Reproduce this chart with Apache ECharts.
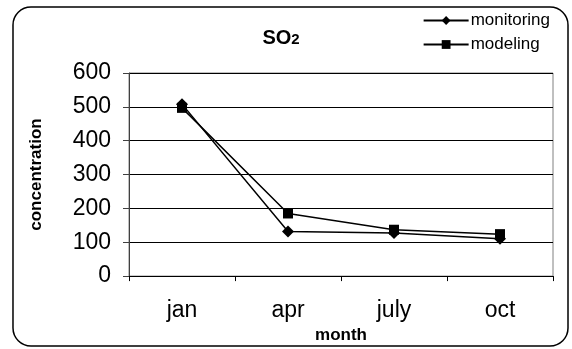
<!DOCTYPE html>
<html>
<head>
<meta charset="utf-8">
<script src="https://cdn.jsdelivr.net/npm/echarts@6/dist/echarts.min.js"></script>
<style>html,body{margin:0;padding:0;background:#fff;}#c{width:572px;height:349px;}</style>
</head>
<body>
<div id="c"></div>
<script>
var categories = ['jan', 'apr', 'july', 'oct'];
var monitoring = [508, 132, 127, 110];
var modeling = [497, 185, 137, 124];
var yTicks = [0, 100, 200, 300, 400, 500, 600];

var chart = echarts.init(document.getElementById('c'), null, {renderer: 'canvas'});
var font = 'Liberation Sans, Arial, sans-serif';
chart.setOption({
  animation: false,
  backgroundColor: '#fff',
  textStyle: {fontFamily: font, color: '#000'},
  title: {
    text: '{a|SO}{b|2}',
    left: 276, top: 23, textAlign: 'center',
    textStyle: {rich: {
      a: {fontFamily: font, fontSize: 20, fontWeight: 'bold', color: '#000'},
      b: {fontFamily: font, fontSize: 15, fontWeight: 'bold', color: '#000', padding: [3, 0, 0, 0]}
    }}
  },
  legend: {
    orient: 'vertical', right: 17, top: 7, itemGap: 7,
    itemWidth: 45, itemHeight: 11,
    textStyle: {fontFamily: font, fontSize: 17, color: '#000', padding: [0, 0, 0, -3]},
    data: ['monitoring', 'modeling']
  },
  graphic: [{
    type: 'rect', shape: {x: 13, y: 7, width: 555, height: 339, r: 18},
    style: {fill: 'none', stroke: '#000', lineWidth: 1.5}, z: 100, silent: true
  }],
  grid: {left: 129, right: 19, top: 73, bottom: 70, show: true, borderColor: '#808080', borderWidth: 1},
  xAxis: {
    type: 'category', data: categories, boundaryGap: true,
    name: 'month', nameLocation: 'middle', nameGap: 45,
    nameTextStyle: {fontFamily: font, fontSize: 17, fontWeight: 'bold', color: '#000'},
    axisLine: {lineStyle: {color: '#000', width: 1}},
    axisTick: {show: true, interval: 0, length: 5, lineStyle: {color: '#000'}},
    axisLabel: {fontFamily: font, fontSize: 23, color: '#000', margin: 23, interval: 0}
  },
  yAxis: {
    type: 'value', min: 0, max: 600, interval: 100,
    name: 'concentration', nameLocation: 'middle', nameGap: 84,
    nameTextStyle: {fontFamily: font, fontSize: 17, fontWeight: 'bold', color: '#000'},
    axisLine: {show: true, lineStyle: {color: '#404040', width: 1}},
    axisTick: {show: true, length: 6, lineStyle: {color: '#404040'}},
    axisLabel: {fontFamily: font, fontSize: 23, color: '#000', margin: 18,
      formatter: function (v) { return yTicks.indexOf(v) >= 0 ? String(v) : ''; }},
    splitLine: {show: true, lineStyle: {color: '#000', width: 1}}
  },
  series: [
    {name: 'monitoring', type: 'line', data: monitoring, symbol: 'diamond', symbolSize: 12,
      lineStyle: {color: '#000', width: 1.5}, itemStyle: {color: '#000'}},
    {name: 'modeling', type: 'line', data: modeling, symbol: 'rect', symbolSize: 10,
      lineStyle: {color: '#000', width: 1.5}, itemStyle: {color: '#000'}}
  ]
});
</script>
</body>
</html>
